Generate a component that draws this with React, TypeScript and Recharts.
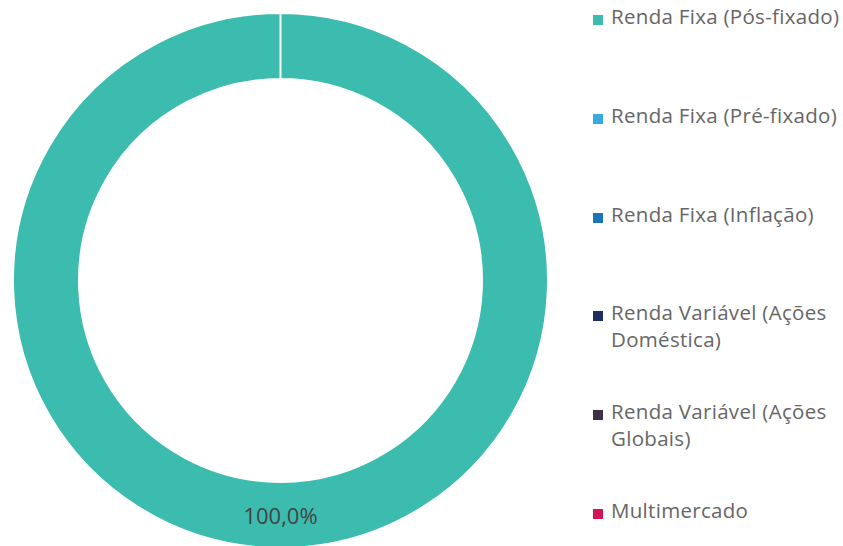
import { PieChart, Pie, Cell, Legend } from "recharts";

const categories = [
  "Renda Fixa (Pós-fixado)",
  "Renda Fixa (Pré-fixado)",
  "Renda Fixa (Inflação)",
  "Renda Variável (Ações Doméstica)",
  "Renda Variável (Ações Globais)",
  "Multimercado",
];
const shares = [100, 0, 0, 0, 0, 0];
const colors = ["#3bbcae", "#3aa9df", "#1b74b5", "#1e2e5f", "#3d3047", "#d3145a"];

const data = categories.map((name, i) => ({ name, value: shares[i] }));

const FONT = "'Open Sans', sans-serif";
const RADIAN = Math.PI / 180;

// percentage label sits in the middle of the ring
const renderLabel = (props: any) => {
  const { cx, cy, midAngle, innerRadius, outerRadius, value } = props;
  if (!value) return null;
  const r = (innerRadius + outerRadius) / 2;
  const x = cx + r * Math.cos(-midAngle * RADIAN);
  const y = cy + r * Math.sin(-midAngle * RADIAN);
  return (
    <text
      x={x}
      y={y}
      textAnchor="middle"
      dominantBaseline="central"
      fill="#444"
      fontSize={22}
      fontFamily={FONT}
    >
      {value.toFixed(1).replace(".", ",")}%
    </text>
  );
};

const renderLegend = () => (
  <div style={{ fontFamily: FONT }}>
    {categories.map((name, i) => (
      <div
        key={name}
        style={{ height: 98.8, display: "flex", alignItems: "flex-start" }}
      >
        <span
          style={{
            width: 10,
            height: 10,
            background: colors[i],
            marginTop: 12,
            marginRight: 8,
            flex: "none",
          }}
        />
        <span
          style={{ fontSize: 20.5, letterSpacing: 0.3, lineHeight: "27px", color: "#666" }}
        >
          {name}
        </span>
      </div>
    ))}
  </div>
);

export default function App() {
  return (
    <div style={{ position: "absolute", left: 0, top: 0, width: 843, height: 546 }}>
      <PieChart width={843} height={546} margin={{ top: 0, right: 0, bottom: 0, left: 0 }}>
        <Pie
          data={data}
          dataKey="value"
          nameKey="name"
          cx={280.5}
          cy={280.5}
          innerRadius={201.5}
          outerRadius={267.5}
          startAngle={90}
          endAngle={-270}
          stroke="#fff"
          strokeWidth={2}
          label={renderLabel}
          labelLine={false}
          isAnimationActive={false}
        >
          {data.map((d, i) => (
            <Cell key={d.name} fill={colors[i]} />
          ))}
        </Pie>
        <Legend
          layout="vertical"
          align="right"
          verticalAlign="top"
          content={renderLegend}
          wrapperStyle={{ left: 593, top: 3, width: 250 }}
        />
      </PieChart>
    </div>
  );
}
